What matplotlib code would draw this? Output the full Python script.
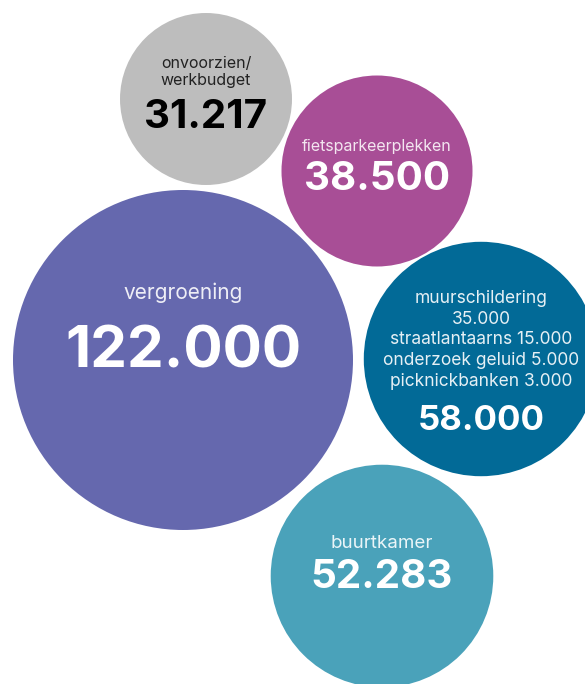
import matplotlib.pyplot as plt
from matplotlib.patches import Circle
import numpy as np

plt.rcParams['font.family'] = ['Inter', 'DejaVu Sans']

# data
labels = ["vergroening", "onvoorzien/\nwerkbudget", "fietsparkeerplekken",
          "muurschildering\n35.000\nstraatlantaarns 15.000\nonderzoek geluid 5.000\npicknickbanken 3.000",
          "buurtkamer"]
values = [122000, 31217, 38500, 58000, 52283]
value_texts = ["122.000", "31.217", "38.500", "58.000", "52.283"]

# layout (pixels, y down)
centers = [(183, 360), (206, 99), (377, 171), (481, 359), (382, 576)]
label_y = [-67, -27, -25, -19, -33]
value_y = [-8, 18, 9, 62, 2]
value_size = [42, 29, 29, 25, 29]
label_size = [15, 11.5, 11.5, 12.5, 13.5]
line_sp = [1.22, 1.22, 1.22, 1.29, 1.22]
colors = ["#6568ae", "#bdbdbd", "#a84e96", "#026a97", "#4aa2ba"]
text_colors = ["white", "black", "white", "white", "white"]
label_colors = ["#eeeef6", "#222222", "#f3e6f0", "#e6f0f5", "#eaf5f8"]

max_r = 170
fig = plt.figure(figsize=(5.85, 6.84), dpi=100)
ax = fig.add_axes([0, 0, 1, 1])
ax.set_xlim(0, 585)
ax.set_ylim(684, 0)
ax.set_aspect('equal')
ax.axis('off')

for i in range(len(values)):
    r = max_r * np.sqrt(values[i] / values[0])
    cx, cy = centers[i]
    ax.add_patch(Circle((cx, cy), r, color=colors[i], lw=0))
    ax.text(cx, cy + label_y[i], labels[i], ha='center', va='center',
            fontsize=label_size[i], color=label_colors[i], linespacing=line_sp[i])
    ax.text(cx, cy + value_y[i], value_texts[i], ha='center', va='center',
            fontsize=value_size[i], fontweight='bold', color=text_colors[i])

fig.savefig("out.png", dpi=100)
